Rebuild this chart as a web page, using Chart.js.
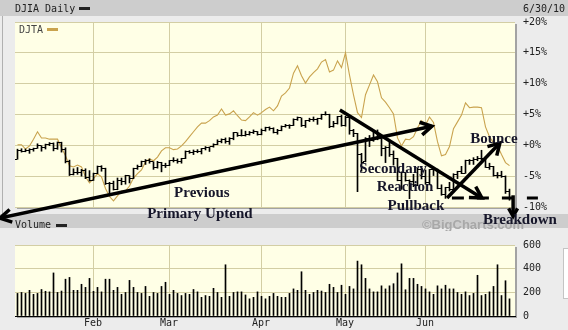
<!DOCTYPE html>
<html><head><meta charset="utf-8">
<script src="https://cdn.jsdelivr.net/npm/chart.js@4.4.0/dist/chart.umd.min.js"></script>
<style>
html,body{margin:0;padding:0;background:#ececec;width:568px;height:330px;overflow:hidden}
#wrap{position:relative;width:568px;height:330px}
#c1{position:absolute;left:0;top:0}
#c2{position:absolute;left:0;top:231px}
</style></head><body>
<div id="wrap"><canvas id="c1" width="568" height="232"></canvas><canvas id="c2" width="568" height="99"></canvas></div>
<script>
// ---- trading days (categories) ----
const janDays=[4,5,6,7,8,11,12,13,14,15,19,20,21,22,25,26,27,28,29];
const febDays=[1,2,3,4,5,8,9,10,11,12,16,17,18,19,22,23,24,25,26];
const marDays=[1,2,3,4,5,8,9,10,11,12,15,16,17,18,19,22,23,24,25,26,29,30,31];
const aprDays=[1,5,6,7,8,9,12,13,14,15,16,19,20,21,22,23,26,27,28,29,30];
const mayDays=[3,4,5,6,7,10,11,12,13,14,17,18,19,20,21,24,25,26,27,28];
const junDays=[1,2,3,4,7,8,9,10,11,14,15,16,17,18,21,22,23,24,25,28,29,30];
const monthLabels=['Feb','Mar','Apr','May','Jun'];

// ---- DJIA daily OHLC, % change ----
const djiaOpen=[
 -2.26,-0.82,-0.93,-0.91,-0.60,-0.49,-0.07,-0.41,0.09,0.37,-0.57,0.51,-0.64,-2.63,-4.67,-4.44,-4.47,-4.07,-5.16,
 -5.66,-4.55,-3.51,-3.75,-6.27,-6.17,-7.15,-5.74,-5.93,-4.94,-5.36,-3.77,-3.39,-2.61,-2.52,-2.70,-3.64,-2.78,-3.28,
 -3.24,-2.50,-2.48,-2.57,-2.13,-0.98,-1.11,-1.00,-0.97,-0.55,-0.43,-0.27,0.14,0.59,1.01,0.67,1.08,2.04,1.55,1.60,1.68,2.11,2.22,
 1.74,2.40,2.84,2.80,2.12,2.40,3.06,3.14,3.27,4.24,4.44,3.26,3.95,4.18,4.25,4.34,5.00,5.00,3.01,3.51,4.65,
 3.16,4.51,2.40,1.85,-1.41,-2.67,1.07,0.72,2.12,1.05,-0.48,-0.42,-1.50,-2.12,-5.65,-4.48,-5.66,-5.88,-6.53,-3.86,
 -5.01,-6.06,-3.95,-3.90,-6.93,-8.01,-6.85,-7.23,-4.67,-4.31,-4.50,-2.49,-2.45,-2.22,-2.07,-2.14,-3.54,-3.49,-4.86,-4.94,-4.99,-7.50];
const djiaHigh=[
 -0.62,-0.55,-0.60,-0.55,-0.45,0.25,-0.05,0.20,0.45,0.40,0.55,0.51,-0.40,-2.40,-3.80,-3.60,-3.90,-3.80,-4.10,
 -4.50,-3.35,-3.30,-3.70,-6.00,-5.80,-5.30,-5.30,-4.85,-4.90,-3.70,-3.20,-2.55,-2.30,-2.20,-2.65,-2.60,-2.75,-2.90,
 -2.45,-2.00,-2.20,-2.10,-0.90,-0.85,-0.75,-0.70,-0.50,-0.20,-0.25,0.25,0.90,1.05,1.20,1.25,2.10,2.05,2.55,2.30,2.25,2.50,2.25,
 2.65,2.95,3.00,2.85,2.60,3.15,3.40,3.35,4.30,4.60,4.45,4.05,4.40,4.60,4.40,5.05,5.45,5.05,3.90,4.70,4.90,
 4.70,4.55,2.60,1.95,-1.30,1.25,1.60,2.20,2.50,1.10,-0.20,0.60,-0.90,-2.10,-4.30,-4.40,-5.60,-4.70,-3.70,-3.80,
 -4.00,-3.90,-3.70,-3.85,-6.40,-6.80,-6.00,-4.60,-4.20,-3.40,-2.40,-2.30,-2.00,-1.80,-0.80,-2.00,-2.90,-3.40,-4.40,-4.20,-4.95,-7.10];
const djiaLow=[
 -2.26,-1.10,-1.05,-1.30,-0.95,-0.50,-0.95,-0.60,-0.05,-0.90,-0.65,-1.10,-2.85,-4.90,-4.80,-4.70,-5.00,-5.40,-5.80,
 -5.70,-4.60,-4.20,-6.35,-7.80,-7.25,-7.20,-6.40,-6.30,-6.10,-5.40,-3.90,-3.45,-3.10,-2.90,-3.90,-3.70,-4.30,-3.60,
 -3.30,-2.70,-2.90,-2.90,-2.15,-1.30,-1.50,-1.20,-1.40,-0.75,-1.00,-0.30,0.10,0.40,0.35,0.15,0.90,1.45,1.50,1.50,1.65,1.90,1.65,
 1.70,2.30,2.45,2.00,1.80,2.35,2.95,2.75,3.20,4.05,3.05,2.90,3.85,3.90,3.40,4.20,4.90,2.85,2.95,3.45,3.10,
 3.10,1.80,1.40,-7.51,-4.20,-2.67,-0.20,0.65,0.90,-1.70,-2.80,-1.80,-3.20,-5.75,-7.15,-5.80,-8.65,-6.70,-6.55,-5.45,
 -6.30,-6.40,-4.90,-7.05,-8.10,-8.60,-7.40,-7.25,-5.40,-4.60,-4.55,-3.10,-3.10,-2.50,-2.35,-3.60,-3.90,-5.00,-5.30,-5.20,-7.80,-8.90];
const djiaClose=[
 -0.82,-0.93,-0.91,-0.60,-0.49,-0.07,-0.41,0.09,0.37,-0.57,0.51,-0.64,-2.63,-4.67,-4.44,-4.47,-4.07,-5.16,-5.66,
 -4.55,-3.51,-3.75,-6.27,-6.17,-7.15,-5.74,-5.93,-4.94,-5.36,-3.77,-3.39,-2.61,-2.52,-2.70,-3.64,-2.78,-3.28,-3.24,
 -2.50,-2.48,-2.57,-2.13,-0.98,-1.11,-1.00,-0.97,-0.55,-0.43,-0.27,0.14,0.59,1.01,0.67,1.08,2.04,1.55,1.60,1.68,2.11,2.22,1.74,
 2.40,2.84,2.80,2.12,2.40,3.06,3.14,3.27,4.24,4.44,3.26,3.95,4.18,4.25,4.34,5.00,5.00,3.01,3.51,4.65,3.16,
 4.51,2.40,1.85,-1.41,-2.72,1.07,0.72,2.12,1.05,-0.48,-0.42,-1.50,-2.12,-5.65,-4.48,-5.66,-5.88,-6.53,-3.86,-5.01,
 -6.06,-3.95,-3.90,-6.93,-8.01,-6.85,-7.23,-4.67,-4.31,-4.50,-2.49,-2.45,-2.22,-2.07,-2.14,-3.54,-3.49,-4.86,-4.94,-4.99,-7.50,-8.41];

// ---- DJTA, % change ----
const djtaPct=[
 0.1,0.1,-0.6,-0.1,1.0,2.2,1.2,1.2,1.0,1.0,1.0,-0.4,-1.7,-3.3,-3.5,-3.2,-3.5,-5.1,-6.1,
 -5.4,-4.6,-5.1,-7.0,-8.3,-9.0,-8.2,-7.4,-7.4,-6.6,-5.3,-4.6,-4.0,-2.7,-2.2,-2.5,-1.9,-0.9,-0.4,
 -0.4,-0.7,-0.6,-0.1,0.6,1.4,2.2,3.0,3.6,3.6,4.0,4.6,4.9,5.9,4.9,5.1,5.6,4.8,4.1,4.0,4.6,5.3,4.9,
 5.3,5.8,6.2,5.6,6.4,8.0,8.5,9.3,11.7,12.9,11.3,10.1,11.1,11.8,12.4,13.5,13.9,11.9,12.2,13.7,12.6,
 15.0,11.4,8.2,5.3,4.5,8.2,9.8,11.4,10.3,7.7,7.0,6.1,5.1,1.2,-0.1,1.0,0.9,1.4,2.8,4.0,
 3.3,4.6,3.7,0.6,-1.7,-1.5,-0.2,2.7,3.8,4.9,6.9,6.1,6.2,6.2,6.1,3.0,1.4,0.4,-0.1,-1.5,-2.8,-3.3];

// ---- Volume (millions) ----
const volume=[
 191,199,191,217,183,191,224,209,204,364,199,211,311,326,217,217,268,242,318,
 209,242,204,311,311,217,242,183,199,301,242,199,191,250,166,199,191,250,285,
 183,217,191,173,191,183,224,204,158,173,166,234,199,158,433,166,199,204,204,178,145,158,204,
 166,145,166,191,166,158,158,191,229,217,374,217,183,199,217,211,199,268,242,199,260,
 183,250,229,464,433,318,229,204,204,255,229,255,273,364,441,222,318,318,268,250,
 229,204,183,255,229,260,229,229,199,183,204,173,191,344,173,183,204,250,433,173,298,145];

// ---- derived tables ----
const monthDays=[janDays,febDays,marDays,aprDays,mayDays,junDays];
const dates=[]; monthDays.forEach((m,mi)=>m.forEach(d=>dates.push((mi+1)+'/'+d+'/10')));
const monthStarts=[]; {let n=0; monthDays.forEach((m,mi)=>{ if(mi>0) monthStarts.push(n-0.1); n+=m.length; });}
const N=dates.length;
const xMin=-0.625, xMax=N+1-0.625;   // 125 slots over the 500px plot: 4px per trading day

const GOLD='#c9a34e', GRID='#d3cea4', PLOTBG='#ffffe6', MONO='"DejaVu Sans Mono", monospace';

function tickImg(left){const c=document.createElement('canvas');c.width=5;c.height=1;const g=c.getContext('2d');g.fillStyle='#000';g.fillRect(left?0:3,0,2,1);return c;}
const openImg=tickImg(true), closeImg=tickImg(false);

// ---- annotations (data coordinates: day index, percent) ----
const arrows=[
 {from:[103.6,3.1], to:[-4.4,-11.8], twoHeads:true},
 {from:[80.6,5.73], to:[116.1,-8.54]},
 {from:[107.4,-8.54], to:[120.6,0.38]},
 {from:[123.9,-8.1], to:[123.9,-11.5], head:9}
];
const supportLine={from:[108.6,-8.54], to:[130.1,-8.54]};
const notes=[
 {text:'Previous', at:[46.1,-7.7]},
 {text:'Primary Uptend', at:[45.6,-11.15]},
 {text:'Secondary', at:[93.9,-3.8]},
 {text:'Reaction', at:[96.9,-6.75]},
 {text:'Pullback', at:[99.6,-9.85]},
 {text:'Bounce', at:[119.1,1.0]},
 {text:'Breakdown', at:[125.6,-12.1]}
];

function paneBg(chart){
  const {ctx,chartArea:a}=chart;
  ctx.fillStyle='#a3a3a3'; ctx.fillRect(a.left+2,a.top+2,a.right-a.left,a.bottom-a.top);
  ctx.fillStyle=PLOTBG; ctx.fillRect(a.left,a.top,a.right-a.left,a.bottom-a.top);
}
const topBg={id:'topBg',beforeDraw(chart){
  const ctx=chart.ctx; ctx.save();
  ctx.fillStyle='#ececec'; ctx.fillRect(0,0,chart.width,chart.height);
  ctx.fillStyle='#cdcdcd'; ctx.fillRect(0,0,chart.width,16); ctx.fillRect(0,214,chart.width,14);
  ctx.fillStyle='#b0b0b0'; ctx.fillRect(2,16,1,198);
  paneBg(chart);
  ctx.font='10px '+MONO; ctx.textBaseline='middle'; ctx.fillStyle='#222';
  ctx.fillText('DJIA Daily',15,9); ctx.fillRect(79,7,11,3);
  ctx.fillText('6/30/10',523,9);
  ctx.fillText('Volume',15,225); ctx.fillRect(56,224,11,3);
  ctx.fillStyle='#444'; ctx.fillText('DJTA',19,30);
  ctx.fillStyle=GOLD; ctx.fillRect(47,28,11,3);
  ctx.restore();
}};
function head(ctx,tx,ty,fx,fy,len,spread){
  const ang=Math.atan2(fy-ty,fx-tx);
  ctx.beginPath();
  ctx.moveTo(tx+len*Math.cos(ang+spread),ty+len*Math.sin(ang+spread));
  ctx.lineTo(tx,ty);
  ctx.lineTo(tx+len*Math.cos(ang-spread),ty+len*Math.sin(ang-spread));
  ctx.stroke();
}
const annot={id:'annot',afterDraw(chart){
  const {ctx,scales:{x,y}}=chart;
  const P=p=>[x.getPixelForValue(p[0]),y.getPixelForValue(p[1])];
  ctx.save();
  ctx.font='bold 13px "Liberation Sans", Arial, sans-serif'; ctx.fillStyle='#a8a8a8'; ctx.textBaseline='middle';
  ctx.fillText('\u00a9BigCharts.com',422,225);
  ctx.strokeStyle='#000'; ctx.lineWidth=3.5; ctx.lineJoin='miter';
  arrows.forEach(a=>{
    const [x1,y1]=P(a.from),[x2,y2]=P(a.to);
    ctx.beginPath(); ctx.moveTo(x1,y1); ctx.lineTo(x2,y2); ctx.stroke();
    head(ctx,x2,y2,x1,y1,a.head||13,0.52);
    if(a.twoHeads) head(ctx,x1,y1,x2,y2,13,0.52);
  });
  ctx.setLineDash([12,13]); ctx.lineWidth=3;
  {const [x1,y1]=P(supportLine.from),[x2,y2]=P(supportLine.to); ctx.beginPath(); ctx.moveTo(x1,y1); ctx.lineTo(x2,y2); ctx.stroke();}
  ctx.setLineDash([]);
  ctx.font='bold 15px "Liberation Serif", "Times New Roman", serif'; ctx.fillStyle='#16162a';
  ctx.textAlign='center'; ctx.textBaseline='middle';
  notes.forEach(n=>{const [px,py]=P(n.at); ctx.fillText(n.text,px,py);});
  ctx.restore();
}};

const xCommon=(showLabels)=>({
  type:'linear', min:xMin, max:xMax, offset:false,
  grid:{color:GRID, drawTicks:false, offset:false},
  border:{display:showLabels, color:'#000'},
  ticks:{display:showLabels, autoSkip:false, maxRotation:0, padding:1, font:{family:MONO,size:10}, color:'#222',
    callback:(v,i)=>monthLabels[i]},
  afterBuildTicks:s=>{s.ticks=monthStarts.map(v=>({value:v}));},
  afterFit:s=>{s.height=showLabels?13:0;}
});

new Chart(document.getElementById('c1'),{
  type:'bar',
  data:{datasets:[
    {type:'line',label:'DJTA',data:djtaPct.map((v,i)=>({x:i,y:v})),borderColor:GOLD,borderWidth:1.1,pointRadius:0,tension:0,order:3},
    {type:'bar',label:'DJIA',data:djiaHigh.map((h,i)=>({x:i,y:[djiaLow[i],h]})),backgroundColor:'#000',barThickness:1,order:2},
    {type:'line',label:'open',data:djiaOpen.map((v,i)=>({x:i,y:v})),showLine:false,pointStyle:openImg,pointRadius:2,order:1},
    {type:'line',label:'close',data:djiaClose.map((v,i)=>({x:i,y:v})),showLine:false,pointStyle:closeImg,pointRadius:2,order:1}
  ]},
  options:{
    responsive:false, animation:false, events:[],
    plugins:{legend:{display:false},tooltip:{enabled:false}},
    layout:{padding:{left:15,top:22,right:0,bottom:25}},
    scales:{
      x:xCommon(false),
      y:{position:'right',min:-10,max:20,
        ticks:{stepSize:5,padding:8,font:{family:MONO,size:10},color:'#222',
          callback:v=>(v>=0?'+':'')+v+'%'},
        grid:{color:GRID,drawTicks:false},border:{display:false},
        afterFit:s=>{s.width=53;}}
    }
  },
  plugins:[topBg,annot]
});

const botBg={id:'botBg',beforeDraw(chart){
  const ctx=chart.ctx; ctx.save();
  ctx.fillStyle='#ececec'; ctx.fillRect(0,0,chart.width,chart.height);
  paneBg(chart);
  ctx.fillStyle='#ffffff'; ctx.strokeStyle='#c4c4c4'; ctx.lineWidth=1;
  ctx.fillRect(563,17,8,50); ctx.strokeRect(563.5,17.5,8,50);
  ctx.restore();
}};
new Chart(document.getElementById('c2'),{
  type:'bar',
  data:{datasets:[{label:'Volume',data:volume.map((v,i)=>({x:i,y:v})),backgroundColor:'#000',barThickness:1}]},
  options:{
    responsive:false, animation:false, events:[],
    plugins:{legend:{display:false},tooltip:{enabled:false}},
    layout:{padding:{left:15,top:6,right:0,bottom:0}},
    scales:{
      x:xCommon(true),
      y:{position:'right',min:0,max:600,
        ticks:{stepSize:200,padding:8,font:{family:MONO,size:10},color:'#222'},
        grid:{color:GRID,drawTicks:false},border:{display:false},
        afterFit:s=>{s.width=53;}}
    }
  },
  plugins:[botBg]
});
</script>
</body></html>
